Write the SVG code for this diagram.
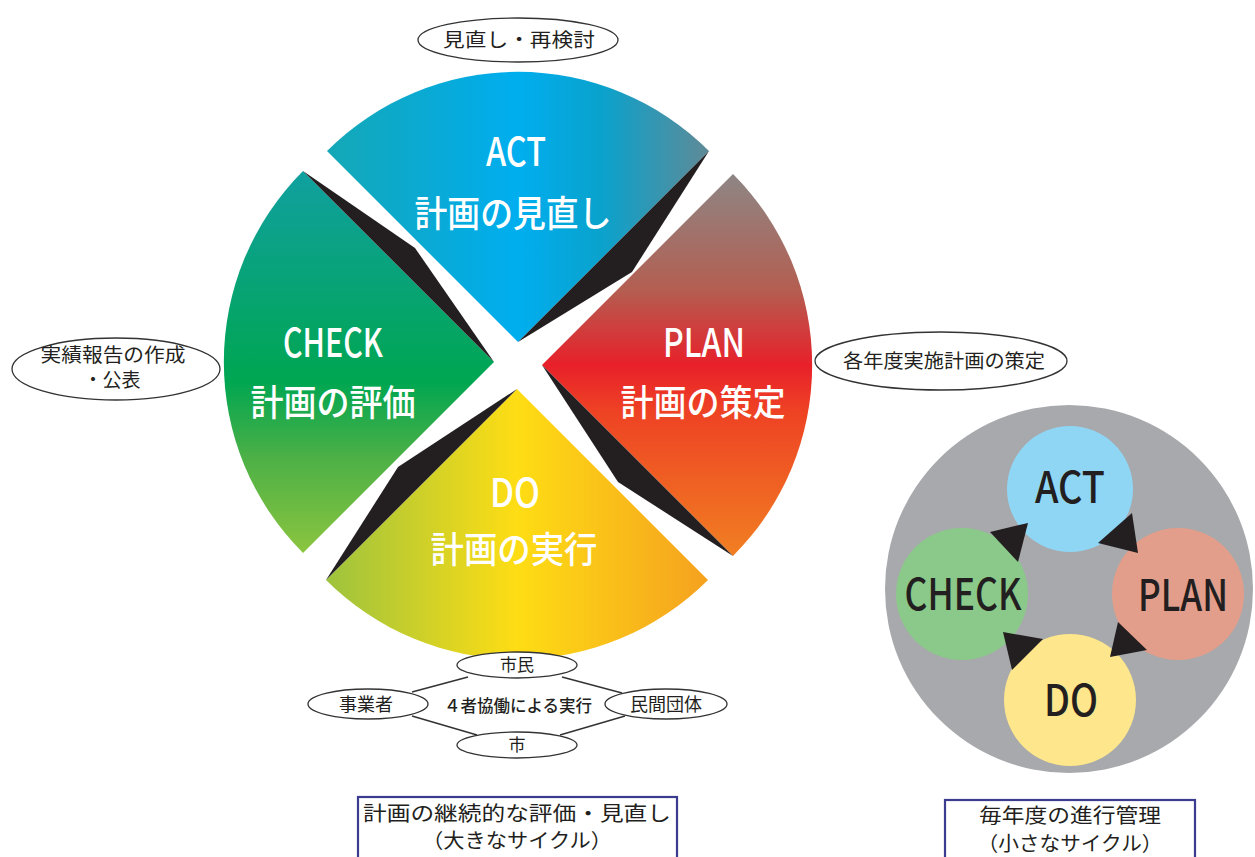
<svg xmlns="http://www.w3.org/2000/svg" width="1255" height="857" viewBox="0 0 1255 857">
<style>
.sec{fill:#ffffff;font-family:"Noto Sans CJK JP","Noto Sans",sans-serif;text-anchor:middle;font-weight:500;}
.big{font-size:40px;}
.sub{font-size:36px;}
.call{fill:#ffffff;stroke:#333333;stroke-width:1.3;}
.ct{fill:#231f20;font-family:"Noto Sans CJK JP","Noto Sans",sans-serif;font-size:19px;text-anchor:middle;}
.wedge{fill:#231f20;}
.sm{fill:#231f20;font-family:"Noto Sans CJK JP","Noto Sans",sans-serif;font-size:43px;text-anchor:middle;font-weight:500;}
.box{fill:#ffffff;stroke:#3b3b8f;stroke-width:2.2;}
.bt{fill:#231f20;font-family:"Noto Sans CJK JP","Noto Sans",sans-serif;font-size:20px;text-anchor:middle;}
.link{stroke:#333333;stroke-width:1.5;fill:none;}
.arr{fill:#231f20;}
</style>
<defs>
<linearGradient id="gAct" gradientUnits="userSpaceOnUse" x1="327" y1="0" x2="709" y2="0">
<stop offset="0" stop-color="#14a8b6"/><stop offset="0.3" stop-color="#08aad8"/><stop offset="0.5" stop-color="#00aeef"/><stop offset="0.72" stop-color="#0aa2cc"/><stop offset="1" stop-color="#5f8a97"/>
</linearGradient>
<linearGradient id="gPlan" gradientUnits="userSpaceOnUse" x1="0" y1="174" x2="0" y2="556">
<stop offset="0" stop-color="#8d8685"/><stop offset="0.3" stop-color="#b35f52"/><stop offset="0.5" stop-color="#e8202a"/><stop offset="0.62" stop-color="#ee4224"/><stop offset="1" stop-color="#f17f22"/>
</linearGradient>
<linearGradient id="gDo" gradientUnits="userSpaceOnUse" x1="326" y1="0" x2="708" y2="0">
<stop offset="0" stop-color="#9dc33e"/><stop offset="0.5" stop-color="#fedd14"/><stop offset="1" stop-color="#f5a11f"/>
</linearGradient>
<linearGradient id="gCheck" gradientUnits="userSpaceOnUse" x1="0" y1="171" x2="0" y2="553">
<stop offset="0" stop-color="#10a0a0"/><stop offset="0.55" stop-color="#00a651"/><stop offset="0.75" stop-color="#4cb046"/><stop offset="1" stop-color="#8bc53f"/>
</linearGradient>
</defs>
<rect x="0" y="0" width="1255" height="857" fill="#ffffff"/>

<g id="act">
<path d="M518,342 L327,151 A270,270 0 0 1 709,151 Z" fill="url(#gAct)"/>
<path class="wedge" d="M709,151 L632,272 L518,342 Z"/>
<text class="sec big" x="516" y="166" textLength="60" lengthAdjust="spacingAndGlyphs">ACT</text>
<text class="sec sub" x="513" y="227" textLength="197" lengthAdjust="spacingAndGlyphs">計画の見直し</text>
</g>
<g id="plan">
<path d="M542,365 L733,174 A270,270 0 0 1 733,556 Z" fill="url(#gPlan)"/>
<path class="wedge" d="M542,365 L618,482 L733,556 Z"/>
<text class="sec big" x="704" y="357" textLength="82" lengthAdjust="spacingAndGlyphs">PLAN</text>
<text class="sec sub" x="703" y="416" textLength="165" lengthAdjust="spacingAndGlyphs">計画の策定</text>
</g>
<g id="do">
<path d="M517,389 L708,580 A270,270 0 0 1 326,580 Z" fill="url(#gDo)"/>
<path class="wedge" d="M517,389 L398,467 L326,580 Z"/>
<text class="sec big" x="515" y="507" textLength="50" lengthAdjust="spacingAndGlyphs">DO</text>
<text class="sec sub" x="514" y="563" textLength="167" lengthAdjust="spacingAndGlyphs">計画の実行</text>
</g>
<g id="check">
<path d="M494,362 L303,553 A270,270 0 0 1 303,171 Z" fill="url(#gCheck)"/>
<path class="wedge" d="M303,171 L415,248 L494,362 Z"/>
<text class="sec big" x="333" y="357" textLength="100" lengthAdjust="spacingAndGlyphs">CHECK</text>
<text class="sec sub" x="333" y="416" textLength="165" lengthAdjust="spacingAndGlyphs">計画の評価</text>
</g>

<g id="note-act">
<ellipse class="call" cx="518" cy="40" rx="100" ry="22"/>
<text class="ct" x="519" y="47" textLength="152" lengthAdjust="spacingAndGlyphs">見直し・再検討</text>
</g>
<g id="note-check">
<ellipse class="call" cx="116" cy="369" rx="104" ry="31"/>
<text class="ct" x="113" y="362" textLength="145" lengthAdjust="spacingAndGlyphs">実績報告の作成</text>
<text class="ct" x="112" y="387">・公表</text>
</g>
<g id="note-plan">
<ellipse class="call" cx="941" cy="361" rx="126" ry="29"/>
<text class="ct" x="944" y="368" textLength="202" lengthAdjust="spacingAndGlyphs">各年度実施計画の策定</text>
</g>

<g id="connectors">
<line class="link" x1="412" y1="692" x2="468" y2="677"/>
<line class="link" x1="562" y1="677" x2="622" y2="693"/>
<line class="link" x1="412" y1="716" x2="477" y2="735"/>
<line class="link" x1="625" y1="716" x2="560" y2="735"/>
</g>

<g id="shimin">
<ellipse class="call" cx="517" cy="665" rx="60" ry="13"/>
<text class="ct" x="517" y="671" style="font-size:17px">市民</text>
</g>
<g id="jigyosha">
<ellipse class="call" cx="368" cy="704" rx="60" ry="15"/>
<text class="ct" x="366" y="711" style="font-size:18px">事業者</text>
</g>
<g id="minkan">
<ellipse class="call" cx="666" cy="704" rx="61" ry="15"/>
<text class="ct" x="666" y="711" style="font-size:18px">民間団体</text>
</g>
<g id="shi">
<ellipse class="call" cx="517" cy="745" rx="60" ry="13"/>
<text class="ct" x="517" y="751" style="font-size:17px">市</text>
</g>
<g id="kyodo">
<text class="ct" x="518" y="712" style="font-size:16.5px;font-weight:500">４者協働による実行</text>
</g>

<g id="small-cycle">
<circle cx="1069" cy="589" r="184" fill="#a7a9ac"/>
</g>
<g id="s-act">
<circle cx="1070" cy="489" r="63" fill="#8fd6f5"/>
<text class="sm" x="1070" y="503" textLength="70" lengthAdjust="spacingAndGlyphs">ACT</text>
</g>
<g id="s-plan">
<circle cx="1178" cy="594" r="66" fill="#e39e8b"/>
<text class="sm" x="1183" y="611" textLength="90" lengthAdjust="spacingAndGlyphs">PLAN</text>
</g>
<g id="s-do">
<circle cx="1070" cy="700" r="66" fill="#fde68b"/>
<text class="sm" x="1071" y="716" textLength="54" lengthAdjust="spacingAndGlyphs">DO</text>
</g>
<g id="s-check">
<circle cx="962" cy="594" r="66" fill="#8bc98a"/>
<text class="sm" x="963" y="610" textLength="117" lengthAdjust="spacingAndGlyphs">CHECK</text>
</g>
<g id="s-arrows">
<polygon class="arr" points="1132,513 1098,543 1138,553"/>
<polygon class="arr" points="1118,622 1147,650 1110,657"/>
<polygon class="arr" points="1043,639 1012,670 1003,632"/>
<polygon class="arr" points="990,532 1018,562 1028,523"/>
</g>

<g id="box-big">
<rect class="box" x="358" y="797" width="319" height="70"/>
<text class="bt" x="517" y="821" textLength="308" lengthAdjust="spacingAndGlyphs">計画の継続的な評価・見直し</text>
<text class="bt" x="517" y="848" textLength="190" lengthAdjust="spacingAndGlyphs">（大きなサイクル）</text>
</g>
<g id="box-small">
<rect class="box" x="945" y="800" width="250" height="67"/>
<text class="bt" x="1070" y="823" textLength="182" lengthAdjust="spacingAndGlyphs">毎年度の進行管理</text>
<text class="bt" x="1070" y="851" textLength="185" lengthAdjust="spacingAndGlyphs">（小さなサイクル）</text>
</g>
</svg>
